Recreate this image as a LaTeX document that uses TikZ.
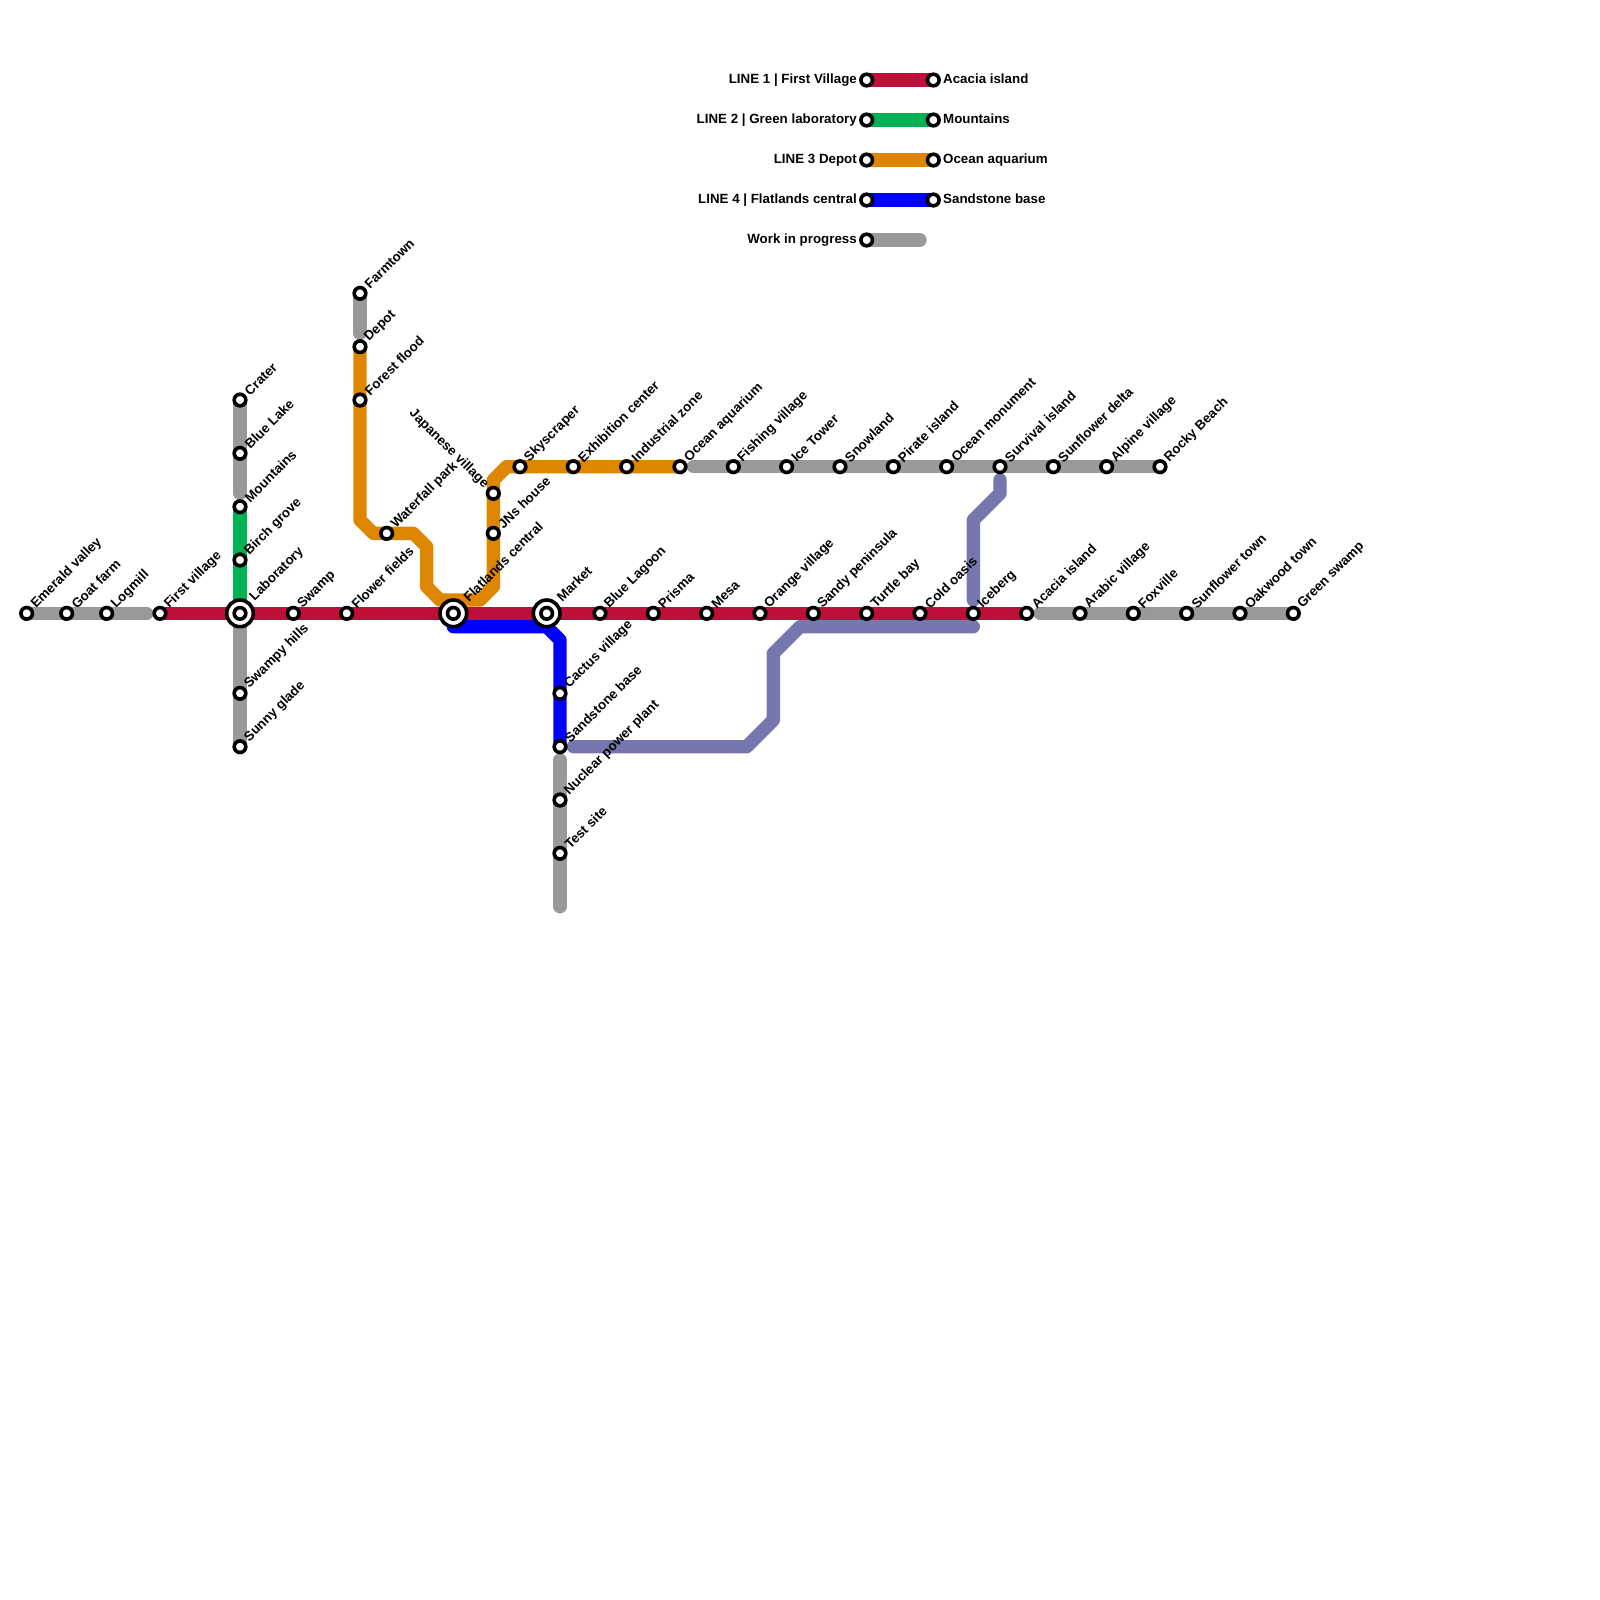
\documentclass[tikz,border=0pt]{standalone}
\usepackage{fontspec}
\setmainfont{Liberation Sans}
\usetikzlibrary{backgrounds}
\definecolor{lineone}{HTML}{BD1038}
\definecolor{linetwo}{HTML}{00B251}
\definecolor{linethree}{HTML}{DF8600}
\definecolor{linefour}{HTML}{0000FF}
\definecolor{linefive}{HTML}{7777AF}
\definecolor{wipgray}{HTML}{999999}

\begin{document}
\begin{tikzpicture}[x=1mm, y=-1mm,
    lbl/.style={font=\fontsize{2.845}{3.2}\selectfont\bfseries, inner sep=0.1mm},
    station/.style={circle, draw=black, fill=white, line width=0.27mm,
                    minimum size=0.87mm, inner sep=0},
    hub/.style={circle, draw=black, fill=white, line width=0.27mm,
                minimum size=2mm, inner sep=0, label={[station]center:}},
    stop/.style={label={[lbl, rotate=45, anchor=west]45:#1}},
    hubstop/.style={label={[lbl, rotate=45, anchor=west, label distance=0.15mm]45:#1}},
    stopback/.style={label={[lbl, rotate=-45, anchor=east]135:#1}},
    textleft/.style={label={[lbl, text height=0.8mm, text depth=0.3mm]left:#1}},
    textright/.style={label={[lbl, text height=0.8mm, text depth=0.3mm]right:#1}},
    track/.style={line width=1mm, line cap=round, line join=round}]

    \useasboundingbox (0,0) rectangle (120,120);

    % main line
    \node[station, stop={Emerald valley}] (emerald) at (2,46) {};
    \node[station, stop={Goat farm}] (goat) at (5,46) {};
    \node[station, stop={Logmill}] (logmill) at (8,46) {};
    \node[station, stop={First village}] (first) at (12,46) {};
    \node[hub, hubstop={Laboratory}] (lab) at (18,46) {};
    \node[station, stop={Swamp}] (swamp) at (22,46) {};
    \node[station, stop={Flower fields}] (flower) at (26,46) {};
    \node[hub, hubstop={Flatlands central}] (flat) at (34,46) {};
    \node[hub, hubstop={Market}] (market) at (41,46) {};
    \node[station, stop={Blue Lagoon}] (lagoon) at (45,46) {};
    \node[station, stop={Prisma}] (prisma) at (49,46) {};
    \node[station, stop={Mesa}] (mesa) at (53,46) {};
    \node[station, stop={Orange village}] (orange) at (57,46) {};
    \node[station, stop={Sandy peninsula}] (sandy) at (61,46) {};
    \node[station, stop={Turtle bay}] (turtle) at (65,46) {};
    \node[station, stop={Cold oasis}] (cold) at (69,46) {};
    \node[station, stop={Iceberg}] (iceberg) at (73,46) {};
    \node[station, stop={Acacia island}] (acacia) at (77,46) {};
    \node[station, stop={Arabic village}] (arabic) at (81,46) {};
    \node[station, stop={Foxville}] (foxville) at (85,46) {};
    \node[station, stop={Sunflower town}] (suntown) at (89,46) {};
    \node[station, stop={Oakwood town}] (oakwood) at (93,46) {};
    \node[station, stop={Green swamp}] (greenswamp) at (97,46) {};

    % north-south branch
    \node[station, stop={Crater}] (crater) at (18,30) {};
    \node[station, stop={Blue Lake}] (bluelake) at (18,34) {};
    \node[station, stop={Mountains}] (mountains) at (18,38) {};
    \node[station, stop={Birch grove}] (birch) at (18,42) {};
    \node[station, stop={Swampy hills}] (swampy) at (18,52) {};
    \node[station, stop={Sunny glade}] (sunny) at (18,56) {};

    % orange line
    \node[station, stop={Farmtown}] (farmtown) at (27,22) {};
    \node[station, stop={Depot}] (depot) at (27,26) {};
    \node[station, stop={Forest flood}] (forest) at (27,30) {};
    \node[station, stop={Waterfall park}] (waterfall) at (29,40) {};
    \node[station, stopback={Japanese village}] (japanese) at (37,37) {};
    \node[station, stop={JNs house}] (jns) at (37,40) {};
    \node[station, stop={Skyscraper}] (sky) at (39,35) {};
    \node[station, stop={Exhibition center}] (exhibition) at (43,35) {};
    \node[station, stop={Industrial zone}] (industrial) at (47,35) {};
    \node[station, stop={Ocean aquarium}] (aquarium) at (51,35) {};
    \node[station, stop={Fishing village}] (fishing) at (55,35) {};
    \node[station, stop={Ice Tower}] (icetower) at (59,35) {};
    \node[station, stop={Snowland}] (snowland) at (63,35) {};
    \node[station, stop={Pirate island}] (pirate) at (67,35) {};
    \node[station, stop={Ocean monument}] (monument) at (71,35) {};
    \node[station, stop={Survival island}] (survival) at (75,35) {};
    \node[station, stop={Sunflower delta}] (delta) at (79,35) {};
    \node[station, stop={Alpine village}] (alpine) at (83,35) {};
    \node[station, stop={Rocky Beach}] (rocky) at (87,35) {};

    % south branch
    \node[station, stop={Cactus village}] (cactus) at (42,52) {};
    \node[station, stop={Sandstone base}] (sandstone) at (42,56) {};
    \node[station, stop={Nuclear power plant}] (nuclear) at (42,60) {};
    \node[station, stop={Test site}] (testsite) at (42,64) {};

    % legend
    \node[station, textleft={LINE 1 | First Village}] (legA) at (65,6) {};
    \node[station, textright={Acacia island}] (legAend) at (70,6) {};
    \node[station, textleft={LINE 2 | Green laboratory}] (legB) at (65,9) {};
    \node[station, textright={Mountains}] (legBend) at (70,9) {};
    \node[station, textleft={LINE 3 Depot}] (legC) at (65,12) {};
    \node[station, textright={Ocean aquarium}] (legCend) at (70,12) {};
    \node[station, textleft={LINE 4 | Flatlands central}] (legD) at (65,15) {};
    \node[station, textright={Sandstone base}] (legDend) at (70,15) {};
    \node[station, textleft={Work in progress}] (legE) at (65,18) {};
    \coordinate (legEend) at (69,18);

    % free ends and bends
    \coordinate (logmillEnd) at (11,46);
    \coordinate (acaciaEnd) at (78,46);
    \coordinate (craterEnd) at (18,37);
    \coordinate (swampyStart) at (18,47);
    \coordinate (farmEnd) at (27,25);
    \coordinate (aquaEnd) at (52,35);
    \coordinate (testEnd) at (42,68);
    \coordinate (sandEnd) at (42,57);
    \coordinate (orA) at (27,39);
    \coordinate (orB) at (28,40);
    \coordinate (orC) at (31,40);
    \coordinate (orD) at (32,41);
    \coordinate (orE) at (32,44);
    \coordinate (orF) at (33,45);
    \coordinate (orG) at (36,45);
    \coordinate (orH) at (37,44);
    \coordinate (orI) at (37,36);
    \coordinate (orJ) at (38,35);
    \coordinate (blA) at (34,47);
    \coordinate (blB) at (41,47);
    \coordinate (blC) at (42,48);
    \coordinate (peA) at (43,56);
    \coordinate (peB) at (56,56);
    \coordinate (peC) at (58,54);
    \coordinate (peD) at (58,49);
    \coordinate (peE) at (60,47);
    \coordinate (peF) at (73,47);
    \coordinate (peG) at (73,45);
    \coordinate (peH) at (73,39);
    \coordinate (peI) at (75,37);
    \coordinate (peJ) at (75,36);

    \begin{scope}[on background layer]
        \draw[track, wipgray] (emerald.center) -- (logmillEnd);
        \draw[track, wipgray] (acaciaEnd) -- (greenswamp.center);
        \draw[track, wipgray] (crater.center) -- (craterEnd);
        \draw[track, wipgray] (swampyStart) -- (sunny.center);
        \draw[track, wipgray] (farmtown.center) -- (farmEnd);
        \draw[track, wipgray] (aquaEnd) -- (rocky.center);
        \draw[track, wipgray] (sandEnd) -- (testEnd);
        \draw[track, linetwo] (mountains.center) -- (lab.center);
        \draw[track, linefour] (flat.center) -- (blA) -- (blB) -- (blC) -- (sandstone.center);
        \draw[track, linefive] (peA) -- (peB) -- (peC) -- (peD) -- (peE) -- (peF);
        \draw[track, linefive] (peG) -- (peH) -- (peI) -- (peJ);
        \draw[track, linethree] (depot.center) -- (orA) -- (orB) -- (orC) -- (orD) -- (orE)
            -- (orF) -- (orG) -- (orH) -- (orI) -- (orJ) -- (aquarium.center);
        \draw[track, lineone] (first.center) -- (acacia.center);
        \draw[track, lineone] (legA.center) -- (legAend.center);
        \draw[track, linetwo] (legB.center) -- (legBend.center);
        \draw[track, linethree] (legC.center) -- (legCend.center);
        \draw[track, linefour] (legD.center) -- (legDend.center);
        \draw[track, wipgray] (legE.center) -- (legEend);
    \end{scope}
\end{tikzpicture}
\end{document}
